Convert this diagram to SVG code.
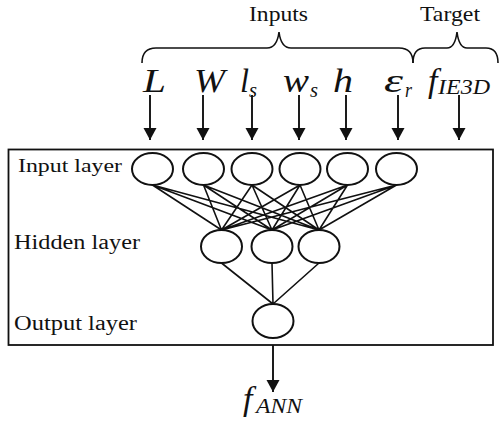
<svg xmlns="http://www.w3.org/2000/svg" width="500" height="423" viewBox="0 0 500 423">
<style>
.lbl{font-family:"Liberation Serif","Times New Roman",serif;fill:#111;}
.sym{font-family:"Liberation Serif","Times New Roman",serif;font-style:italic;fill:#111;font-size:34px;}
.sub{font-family:"Liberation Serif","Times New Roman",serif;font-style:italic;fill:#111;font-size:22px;}
.node{fill:#fff;stroke:#111;stroke-width:2;}
.edge{stroke:#111;stroke-width:1.6;fill:none;}
.arr{stroke:#111;stroke-width:1.9;fill:none;marker-end:url(#ah);}
.brace{stroke:#111;stroke-width:1.6;fill:none;}
</style>
<defs>
<marker id="ah" markerUnits="userSpaceOnUse" markerWidth="14" markerHeight="14" refX="12" refY="6.5" orient="auto">
<path d="M0,0 L12,6.5 L0,13 z" fill="#111"/>
</marker>
</defs>
<rect width="500" height="423" fill="#fff"/>

<g id="frame">
<rect x="8.5" y="149.5" width="484.5" height="195.5" fill="none" stroke="#111" stroke-width="1.8"/>
<text class="lbl" x="18" y="172" font-size="19" textLength="104" lengthAdjust="spacingAndGlyphs">Input layer</text>
<text class="lbl" x="14" y="249" font-size="20" textLength="126" lengthAdjust="spacingAndGlyphs">Hidden layer</text>
<text class="lbl" x="14" y="330" font-size="20" textLength="123" lengthAdjust="spacingAndGlyphs">Output layer</text>
</g>

<g id="header">
<text class="lbl" x="249" y="21" font-size="21" textLength="59" lengthAdjust="spacingAndGlyphs">Inputs</text>
<text class="lbl" x="420" y="21" font-size="21" textLength="60" lengthAdjust="spacingAndGlyphs">Target</text>
<path class="brace" d="M142,63 Q142,48 156,48 L267,48 Q277,48 279,32 Q281,48 291,48 L399,48 Q413,48 413,63"/>
<path class="brace" d="M413,63 Q413,48 425,48 L447,48 Q455,48 457,32 Q459,48 467,48 L486,48 Q498,48 498,63"/>
</g>

<g id="symbols">
<text class="sym" x="143" y="92" textLength="23" lengthAdjust="spacingAndGlyphs">L</text>
<text class="sym" x="194" y="92" textLength="31" lengthAdjust="spacingAndGlyphs">W</text>
<text class="sym" x="240" y="92" textLength="9" lengthAdjust="spacingAndGlyphs">l</text>
<text class="sub" x="249" y="97" textLength="8" lengthAdjust="spacingAndGlyphs">s</text>
<text class="sym" x="283" y="92" textLength="26" lengthAdjust="spacingAndGlyphs">w</text>
<text class="sub" x="310" y="97" textLength="8" lengthAdjust="spacingAndGlyphs">s</text>
<text class="sym" x="333" y="92" textLength="20" lengthAdjust="spacingAndGlyphs">h</text>
<text class="sym" x="384" y="92" textLength="19" lengthAdjust="spacingAndGlyphs">ε</text>
<text class="sub" x="405" y="97" textLength="7" lengthAdjust="spacingAndGlyphs">r</text>
<text class="sym" x="428" y="92">f</text>
<text class="sub" x="438" y="94" textLength="52" lengthAdjust="spacingAndGlyphs">IE3D</text>
<text class="sym" x="243" y="410" font-size="32">f</text>
<text class="sub" x="256" y="413" textLength="46" lengthAdjust="spacingAndGlyphs">ANN</text>
</g>

<g id="connectors">
<line class="arr" x1="150" y1="95" x2="150" y2="140"/>
<line class="arr" x1="203" y1="95" x2="203" y2="140"/>
<line class="arr" x1="252" y1="95" x2="252" y2="140"/>
<line class="arr" x1="299" y1="95" x2="299" y2="140"/>
<line class="arr" x1="346" y1="95" x2="346" y2="140"/>
<line class="arr" x1="398" y1="95" x2="398" y2="140"/>
<line class="arr" x1="459" y1="95" x2="459" y2="140"/>
<line class="arr" x1="273" y1="345" x2="273" y2="392"/>

<path class="edge" d="M152.5,185 L221.5,230 M152.5,185 L272,230 M152.5,185 L319,230
M203.5,185 L221.5,230 M203.5,185 L272,230 M203.5,185 L319,230
M252,185 L221.5,230 M252,185 L272,230 M252,185 L319,230
M300,185 L221.5,230 M300,185 L272,230 M300,185 L319,230
M347.5,185 L221.5,230 M347.5,185 L272,230 M347.5,185 L319,230
M396.5,185 L221.5,230 M396.5,185 L272,230 M396.5,185 L319,230
M221.5,263 L273,304 M272,263 L273,304 M319,263 L273,304"/>
</g>

<g id="input-nodes">
<ellipse id="in1" class="node" cx="152.5" cy="169" rx="20.5" ry="16"/>
<ellipse id="in2" class="node" cx="203.5" cy="169" rx="20.5" ry="16"/>
<ellipse id="in3" class="node" cx="252" cy="169" rx="20.5" ry="16"/>
<ellipse id="in4" class="node" cx="300" cy="169" rx="20.5" ry="16"/>
<ellipse id="in5" class="node" cx="347.5" cy="169" rx="20.5" ry="16"/>
<ellipse id="in6" class="node" cx="396.5" cy="169" rx="20.5" ry="16"/>
</g>
<g id="hidden-nodes">
<ellipse id="h1" class="node" cx="221.5" cy="246.5" rx="20.5" ry="16.5"/>
<ellipse id="h2" class="node" cx="272" cy="246.5" rx="20.5" ry="16.5"/>
<ellipse id="h3" class="node" cx="319" cy="246.5" rx="20.5" ry="16.5"/>
</g>
<g id="output-node">
<ellipse id="o1" class="node" cx="273" cy="321" rx="20.5" ry="17"/>
</g>
</svg>
